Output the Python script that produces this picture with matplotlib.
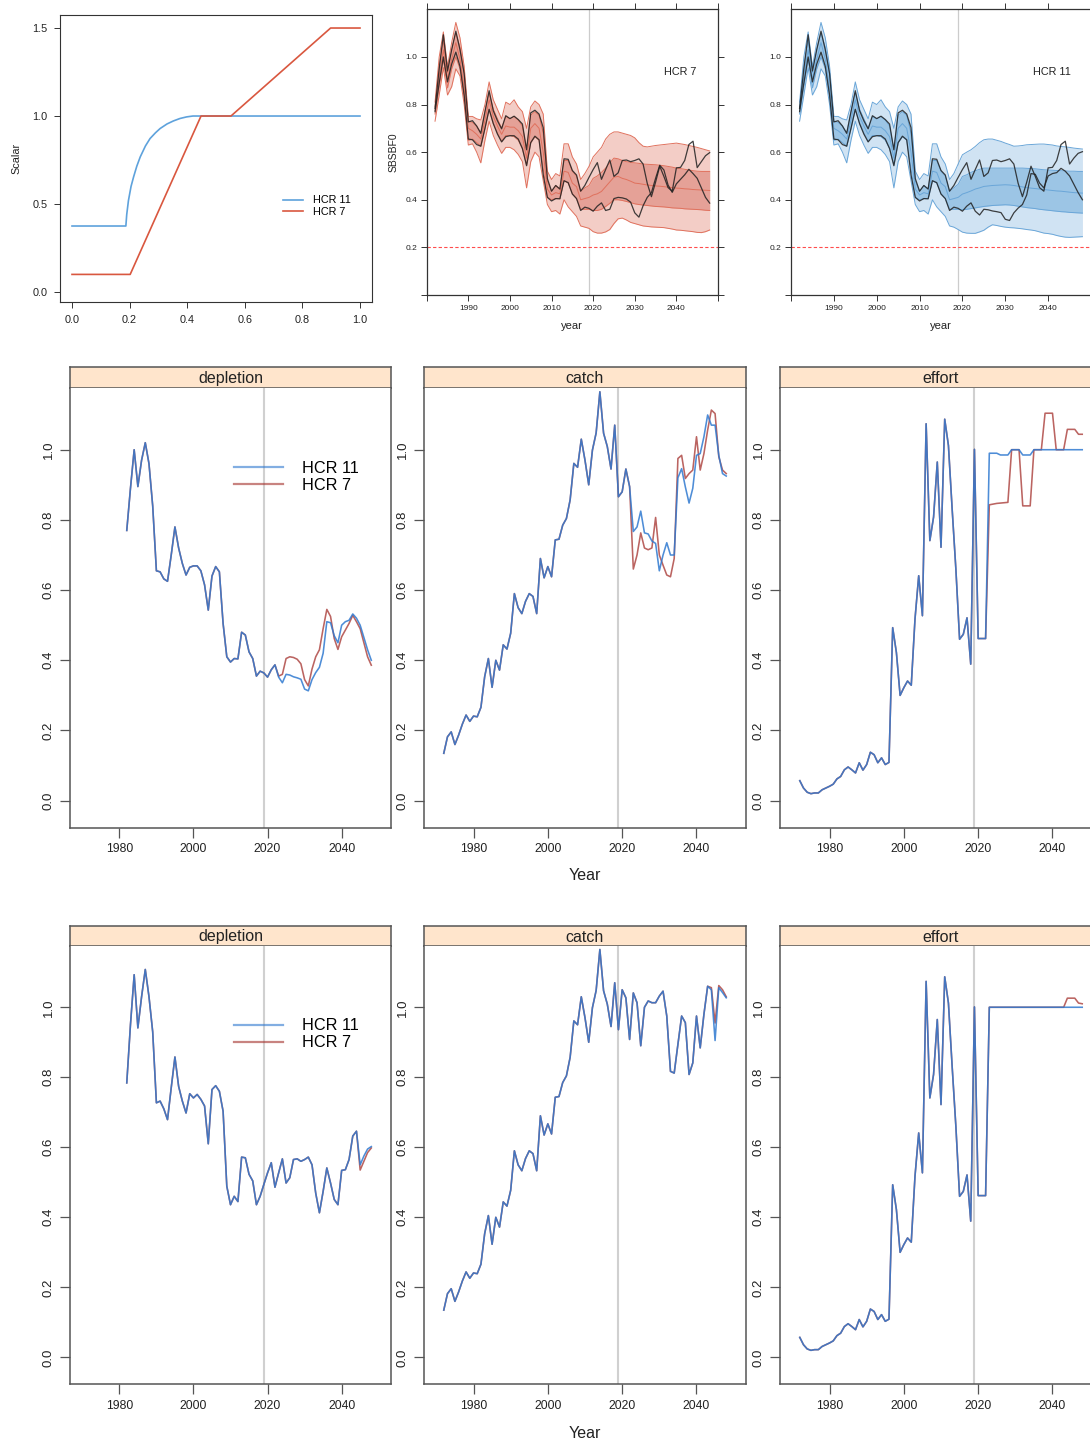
import numpy as np
import matplotlib
matplotlib.use("Agg")
import matplotlib.pyplot as plt
from matplotlib.lines import Line2D

plt.rcParams['font.family'] = ['Liberation Sans', 'DejaVu Sans']

# ---------------- harvest control rules ----------------
hcr7_x = [0.0, 0.202, 0.448, 0.552, 0.898, 1.0]
hcr7_y = [0.1, 0.1, 1.0, 1.0, 1.5, 1.5]
hcr11_x = [0.0, 0.187, 0.19, 0.196, 0.205, 0.214, 0.225, 0.237, 0.255, 0.271,
           0.29, 0.306, 0.33, 0.352, 0.375, 0.398, 0.42, 1.0]
hcr11_y = [0.375, 0.375, 0.44, 0.52, 0.60, 0.655, 0.715, 0.768, 0.83, 0.872,
           0.905, 0.929, 0.955, 0.972, 0.986, 0.995, 1.0, 1.0]

# ---------------- SB/SBF0 quantile envelopes ----------------
sb_years_hist = np.arange(1982, 2019)
sb_years_proj = np.arange(2019, 2049)
sb_lo90_hist = [0.73, 0.84, 0.955, 0.84, 0.875, 0.95, 0.92, 0.80, 0.63, 0.635, 0.60, 0.555,
                0.65, 0.73, 0.67, 0.63, 0.595, 0.62, 0.62, 0.61, 0.59, 0.56, 0.45, 0.56,
                0.60, 0.58, 0.48, 0.38, 0.35, 0.355, 0.34, 0.40, 0.37, 0.35, 0.33, 0.29, 0.285]
sb_lo50_hist = [0.76, 0.88, 0.99, 0.87, 0.95, 1.0, 0.95, 0.83, 0.65, 0.655, 0.64, 0.625,
                0.70, 0.78, 0.72, 0.68, 0.645, 0.67, 0.67, 0.665, 0.65, 0.615, 0.545, 0.64,
                0.665, 0.65, 0.53, 0.41, 0.40, 0.405, 0.405, 0.48, 0.47, 0.425, 0.405, 0.36, 0.36]
sb_med_hist = [0.775, 0.92, 1.03, 0.905, 0.99, 1.06, 0.99, 0.87, 0.70, 0.69, 0.675, 0.655,
               0.735, 0.82, 0.75, 0.71, 0.675, 0.71, 0.705, 0.705, 0.69, 0.665, 0.575, 0.70,
               0.72, 0.70, 0.60, 0.445, 0.42, 0.43, 0.425, 0.52, 0.515, 0.47, 0.455, 0.40, 0.405]
sb_hi50_hist = [0.79, 0.96, 1.07, 0.935, 1.03, 1.10, 1.04, 0.93, 0.73, 0.725, 0.71, 0.68,
                0.77, 0.85, 0.78, 0.74, 0.70, 0.75, 0.74, 0.75, 0.735, 0.71, 0.61, 0.755,
                0.77, 0.755, 0.68, 0.48, 0.435, 0.46, 0.445, 0.565, 0.565, 0.52, 0.50, 0.435, 0.45]
sb_hi90_hist = [0.81, 1.0, 1.105, 0.96, 1.06, 1.145, 1.08, 0.96, 0.75, 0.75, 0.74, 0.735,
                0.80, 0.895, 0.82, 0.78, 0.74, 0.81, 0.80, 0.82, 0.79, 0.77, 0.70, 0.79,
                0.815, 0.80, 0.76, 0.52, 0.485, 0.51, 0.50, 0.635, 0.635, 0.58, 0.55, 0.485, 0.51]

sb7_lo90 = [0.28, 0.266, 0.26, 0.26, 0.265, 0.275, 0.30, 0.32, 0.323, 0.315, 0.305, 0.30,
            0.295, 0.29, 0.288, 0.286, 0.285, 0.284, 0.283, 0.28, 0.277, 0.273, 0.272, 0.27,
            0.268, 0.266, 0.263, 0.262, 0.266, 0.273]
sb7_lo50 = [0.36, 0.355, 0.355, 0.36, 0.372, 0.385, 0.40, 0.40, 0.397, 0.393, 0.388, 0.383,
            0.38, 0.378, 0.376, 0.374, 0.372, 0.371, 0.37, 0.368, 0.366, 0.365, 0.364, 0.362,
            0.361, 0.36, 0.359, 0.358, 0.356, 0.355]
sb7_med = [0.41, 0.42, 0.425, 0.435, 0.455, 0.475, 0.495, 0.498, 0.49, 0.485, 0.478, 0.47,
           0.468, 0.465, 0.462, 0.46, 0.458, 0.457, 0.455, 0.453, 0.451, 0.449, 0.448, 0.446,
           0.445, 0.443, 0.442, 0.441, 0.44, 0.439]
sb7_hi50 = [0.46, 0.49, 0.50, 0.515, 0.533, 0.555, 0.575, 0.572, 0.565, 0.56, 0.557, 0.555,
            0.553, 0.55, 0.549, 0.548, 0.547, 0.545, 0.543, 0.54, 0.537, 0.533, 0.531, 0.528,
            0.525, 0.522, 0.52, 0.519, 0.519, 0.519]
sb7_hi90 = [0.54, 0.58, 0.60, 0.62, 0.655, 0.675, 0.685, 0.685, 0.68, 0.675, 0.67, 0.66,
            0.64, 0.625, 0.622, 0.625, 0.628, 0.63, 0.632, 0.634, 0.636, 0.638, 0.635, 0.632,
            0.628, 0.624, 0.62, 0.615, 0.61, 0.605]

sb11_lo90 = [0.275, 0.264, 0.26, 0.259, 0.259, 0.265, 0.272, 0.285, 0.295, 0.292, 0.288, 0.285,
             0.283, 0.282, 0.28, 0.278, 0.275, 0.273, 0.27, 0.265, 0.26, 0.258, 0.255, 0.25,
             0.246, 0.243, 0.242, 0.243, 0.244, 0.245]
sb11_lo50 = [0.36, 0.358, 0.36, 0.363, 0.366, 0.369, 0.372, 0.374, 0.376, 0.377, 0.378, 0.379,
             0.378, 0.376, 0.373, 0.37, 0.367, 0.365, 0.363, 0.36, 0.358, 0.356, 0.354, 0.352,
             0.35, 0.349, 0.347, 0.346, 0.345, 0.344]
sb11_med = [0.41, 0.424, 0.43, 0.437, 0.445, 0.45, 0.456, 0.458, 0.46, 0.461, 0.462, 0.463,
            0.462, 0.46, 0.457, 0.454, 0.451, 0.449, 0.447, 0.445, 0.443, 0.441, 0.439, 0.437,
            0.436, 0.434, 0.432, 0.43, 0.429, 0.428]
sb11_hi50 = [0.465, 0.498, 0.505, 0.515, 0.522, 0.528, 0.533, 0.533, 0.533, 0.533, 0.533, 0.533,
             0.533, 0.533, 0.533, 0.533, 0.532, 0.531, 0.53, 0.528, 0.526, 0.525, 0.524, 0.523,
             0.522, 0.521, 0.52, 0.52, 0.519, 0.519]
sb11_hi90 = [0.55, 0.589, 0.60, 0.61, 0.624, 0.64, 0.652, 0.655, 0.655, 0.65, 0.645, 0.638,
             0.632, 0.625, 0.626, 0.628, 0.631, 0.632, 0.633, 0.634, 0.634, 0.632, 0.63, 0.626,
             0.624, 0.622, 0.62, 0.617, 0.615, 0.613]

# ---------------- single iterations: depletion ----------------
dep_years = np.arange(1982, 2049)
# iteration a: common to 2022, then by rule 2023-2048
dep_a_common = [0.77, 0.89, 1.00, 0.895, 0.97, 1.02, 0.96, 0.84, 0.655, 0.652, 0.632, 0.625,
                0.70, 0.78, 0.72, 0.676, 0.643, 0.665, 0.669, 0.669, 0.655, 0.615, 0.543, 0.64,
                0.667, 0.652, 0.505, 0.41, 0.395, 0.405, 0.404, 0.48, 0.472, 0.424, 0.405,
                0.355, 0.369, 0.364, 0.352, 0.373, 0.387]
dep_a_hcr11 = [0.352, 0.336, 0.36, 0.358, 0.353, 0.35, 0.346, 0.318, 0.313, 0.345, 0.365,
               0.38, 0.42, 0.51, 0.507, 0.47, 0.45, 0.50, 0.51, 0.514, 0.532, 0.52, 0.50,
               0.465, 0.43, 0.40]
dep_a_hcr7 = [0.355, 0.36, 0.405, 0.41, 0.408, 0.403, 0.39, 0.345, 0.327, 0.375, 0.41,
              0.43, 0.49, 0.545, 0.525, 0.462, 0.431, 0.467, 0.486, 0.505, 0.528, 0.51, 0.49,
              0.45, 0.41, 0.386]
# iteration b: common to 2044, then by rule 2045-2048
dep_b_common = [0.784, 0.95, 1.093, 0.941, 1.03, 1.108, 1.03, 0.93, 0.727, 0.732, 0.71, 0.679,
                0.77, 0.858, 0.774, 0.732, 0.698, 0.753, 0.741, 0.751, 0.737, 0.718, 0.61,
                0.765, 0.776, 0.76, 0.703, 0.489, 0.436, 0.46, 0.445, 0.572, 0.57, 0.523,
                0.504, 0.436, 0.46, 0.494, 0.527, 0.556, 0.486, 0.527, 0.567, 0.498, 0.513,
                0.565, 0.567, 0.56, 0.565, 0.572, 0.55, 0.469, 0.413, 0.474, 0.541, 0.498,
                0.451, 0.436, 0.534, 0.536, 0.565, 0.632, 0.646]
dep_b_hcr11 = [0.55, 0.575, 0.595, 0.602]
dep_b_hcr7 = [0.535, 0.56, 0.585, 0.598]

# ---------------- single iterations: catch ----------------
ce_years = np.arange(1972, 2049)
catch_hist = [0.135, 0.182, 0.196, 0.16, 0.187, 0.218, 0.244, 0.226, 0.241, 0.239, 0.266,
              0.353, 0.405, 0.323, 0.40, 0.372, 0.444, 0.432, 0.477, 0.59, 0.55, 0.533,
              0.568, 0.59, 0.582, 0.533, 0.69, 0.635, 0.667, 0.638, 0.743, 0.745, 0.785,
              0.804, 0.857, 0.961, 0.95, 1.03, 0.97, 0.90, 0.999, 1.048, 1.165, 1.047,
              1.009, 0.945, 1.07]
catch_a_common = [0.866, 0.88, 0.945, 0.895]
catch_a_hcr11 = [0.767, 0.78, 0.825, 0.763, 0.76, 0.74, 0.733, 0.655, 0.70, 0.735, 0.70,
                 0.70, 0.92, 0.946, 0.894, 0.848, 0.89, 0.984, 0.989, 1.037, 1.099, 1.07,
                 1.07, 0.984, 0.932, 0.925]
catch_a_hcr7 = [0.66, 0.70, 0.763, 0.72, 0.715, 0.72, 0.807, 0.70, 0.671, 0.643, 0.638,
                0.69, 0.975, 0.984, 0.918, 0.932, 0.942, 1.037, 0.942, 0.989, 1.056, 1.113,
                1.103, 0.98, 0.942, 0.932]
catch_b_common = [0.936, 1.05, 1.027, 0.908, 1.041, 1.013, 0.89, 1.0, 1.018, 1.013, 1.013,
                  1.032, 1.046, 0.975, 0.817, 0.812, 0.894, 0.975, 0.956, 0.808, 0.841,
                  0.975, 0.884, 0.98, 1.06]
catch_b_hcr11 = [1.05, 0.905, 1.056, 1.042, 1.027]
catch_b_hcr7 = [1.056, 0.955, 1.062, 1.05, 1.03]

# ---------------- single iterations: effort ----------------
effort_hist = [0.057, 0.036, 0.024, 0.02, 0.022, 0.022, 0.031, 0.036, 0.041, 0.047, 0.062,
               0.069, 0.088, 0.096, 0.088, 0.079, 0.108, 0.087, 0.103, 0.138, 0.131, 0.108,
               0.122, 0.103, 0.109, 0.493, 0.422, 0.30, 0.322, 0.341, 0.329, 0.517, 0.641,
               0.527, 1.074, 0.741, 0.808, 0.965, 0.722, 1.087, 1.012, 0.831, 0.66, 0.46,
               0.474, 0.521, 0.389, 1.001, 0.462, 0.462, 0.462]
effort_a_hcr11 = [0.99, 0.99, 0.99, 0.985, 0.985, 0.985, 1.0, 1.0, 1.0, 0.985, 0.985, 0.985,
                  1.0, 1.0, 1.0, 1.0, 1.0, 1.0, 1.0, 1.0, 1.0, 1.0, 1.0, 1.0, 1.0, 1.0]
effort_a_hcr7 = [0.843, 0.845, 0.847, 0.848, 0.849, 0.85, 1.0, 1.0, 1.0, 0.84, 0.84, 0.84,
                 1.0, 1.0, 1.0, 1.104, 1.104, 1.104, 1.0, 1.0, 1.0, 1.058, 1.058, 1.058,
                 1.044, 1.044]
effort_b_common = [1.0] * 21
effort_b_hcr11 = [1.0, 1.0, 1.0, 1.0, 1.0]
effort_b_hcr7 = [1.026, 1.026, 1.026, 1.012, 1.01]

rules = ['HCR 11', 'HCR 7']

# ---------------- layout helpers ----------------
W, H = 1090, 1445
fig = plt.figure(figsize=(W / 100, H / 100), dpi=100)


def box(x0, y0, x1, y1):
    """Axes placed by its pixel box (left, top, right, bottom)."""
    return fig.add_axes([x0 / W, 1 - y1 / H, (x1 - x0) / W, (y1 - y0) / H])


# ================= top-left: control rules =================
rule_col = {'HCR 11': '#5ea2dc', 'HCR 7': '#d9573f'}
ax = box(60, 15, 372, 302.3)
ax.plot(hcr11_x, hcr11_y, color=rule_col['HCR 11'], lw=1.2, label='HCR 11')
ax.plot(hcr7_x, hcr7_y, color=rule_col['HCR 7'], lw=1.2, label='HCR 7')
ax.set_xlim(-0.0417, 1.0417)
ax.set_ylim(-0.0585, 1.574)
ax.set_xticks([0, 0.2, 0.4, 0.6, 0.8, 1.0])
ax.set_xticklabels(['0.0', '0.2', '0.4', '0.6', '0.8', '1.0'])
ax.set_yticks([0, 0.5, 1.0, 1.5])
ax.set_yticklabels(['0.0', '0.5', '1.0', '1.5'])
ax.tick_params(labelsize=7.8, length=4, width=0.7, color='#333333', labelcolor='#222222', pad=5)
for s in ax.spines.values():
    s.set_color('#333333')
    s.set_linewidth(0.8)
ax.set_ylabel('Scalar', fontsize=7.8, color='#222222', labelpad=8)
ax.legend(loc='upper left', bbox_to_anchor=(0.715, 0.372), frameon=False, fontsize=7.8,
          handlelength=1.8, handletextpad=1.0, labelspacing=0.1, borderpad=0,
          borderaxespad=0)

# ================= top: SB/SBF0 envelopes =================
band_style = {
    'HCR 7': dict(outer='#f3cdc6', inner='#e5a197', line='#e0715d'),
    'HCR 11': dict(outer='#d0e3f3', inner='#9cc5e5', line='#6aa6d8'),
}
proj_sets = {
    'HCR 7': (sb7_lo90, sb7_lo50, sb7_med, sb7_hi50, sb7_hi90),
    'HCR 11': (sb11_lo90, sb11_lo50, sb11_med, sb11_hi50, sb11_hi90),
}
hist_set = (sb_lo90_hist, sb_lo50_hist, sb_med_hist, sb_hi50_hist, sb_hi90_hist)
worm_a = {'HCR 11': dep_a_common + dep_a_hcr11, 'HCR 7': dep_a_common + dep_a_hcr7}
worm_b = {'HCR 11': dep_b_common + dep_b_hcr11, 'HCR 7': dep_b_common + dep_b_hcr7}
sb_years = np.concatenate([sb_years_hist, sb_years_proj])

for rule, (x0, x1), ylab in [('HCR 7', (426.7, 718), 'SBSBF0'), ('HCR 11', (791, 1091), None)]:
    ax = box(x0, 9.3, x1, 295)
    st = band_style[rule]
    lo90, lo50, med, hi50, hi90 = [np.array(h + p) for h, p in zip(hist_set, proj_sets[rule])]
    ax.fill_between(sb_years, lo90, hi90, color=st['outer'], lw=0)
    ax.fill_between(sb_years, lo50, hi50, color=st['inner'], lw=0)
    for q in (lo90, hi90, lo50, hi50, med):
        ax.plot(sb_years, q, color=st['line'], lw=0.7)
    ax.plot(dep_years, worm_a[rule], color='#202020', lw=0.9, alpha=0.85)
    ax.plot(dep_years, worm_b[rule], color='#202020', lw=0.9, alpha=0.85)
    ax.axvline(2019, color='#cccccc', lw=0.9, zorder=0.5)
    ax.axhline(0.2, color='#ff4d4d', lw=0.8, ls=(0, (3, 2)))
    ax.set_xlim(1980, 2050)
    ax.set_ylim(0, 1.2)
    ax.set_xticks(np.arange(1980, 2051, 10))
    ax.set_xticklabels([''] + [str(y) for y in range(1990, 2041, 10)] + [''])
    ax.set_yticks([0, 0.2, 0.4, 0.6, 0.8, 1.0])
    ax.set_yticklabels(['', '0.2', '0.4', '0.6', '0.8', '1.0'])
    ax.tick_params(labelsize=6, length=4, width=0.7, color='#333333',
                   labelcolor='#222222', top=True, right=True, pad=3)
    for s in ax.spines.values():
        s.set_color('#333333')
        s.set_linewidth(0.9)
    ax.set_xlabel('year', fontsize=8, color='#222222', labelpad=7)
    if ylab:
        ax.set_ylabel(ylab, fontsize=7.5, color='#222222', labelpad=5)
    ax.text(0.87, 0.78, rule, transform=ax.transAxes, fontsize=7.8, color='#222222',
            ha='center', va='center')

# ================= middle & bottom: single iterations =================
line_col = {'HCR 7': '#a4302c', 'HCR 11': '#2f79d0'}
line_alpha = {'HCR 7': 0.75, 'HCR 11': 0.85}

series_a = {
    'depletion': (dep_years, {'HCR 11': dep_a_common + dep_a_hcr11,
                              'HCR 7': dep_a_common + dep_a_hcr7}),
    'catch': (ce_years, {'HCR 11': catch_hist + catch_a_common + catch_a_hcr11,
                         'HCR 7': catch_hist + catch_a_common + catch_a_hcr7}),
    'effort': (ce_years, {'HCR 11': effort_hist + effort_a_hcr11,
                          'HCR 7': effort_hist + effort_a_hcr7}),
}
series_b = {
    'depletion': (dep_years, {'HCR 11': dep_b_common + dep_b_hcr11,
                              'HCR 7': dep_b_common + dep_b_hcr7}),
    'catch': (ce_years, {'HCR 11': catch_hist + catch_b_common + catch_b_hcr11,
                         'HCR 7': catch_hist + catch_b_common + catch_b_hcr7}),
    'effort': (ce_years, {'HCR 11': effort_hist + effort_b_common + effort_b_hcr11,
                          'HCR 7': effort_hist + effort_b_common + effort_b_hcr7}),
}

panel_x = [(70, 391), (424, 746), (780, 1102)]
frame_col = '#555555'


def draw_row(series, strip_top, strip_bot, box_bot, year_y):
    for (x0, x1), name in zip(panel_x, ['depletion', 'catch', 'effort']):
        sx = box(x0, strip_top, x1, strip_bot)
        sx.set_facecolor('#ffe5cc')
        sx.set_xticks([])
        sx.set_yticks([])
        for s in sx.spines.values():
            s.set_color(frame_col)
            s.set_linewidth(1.1)
        sx.text(0.5, 0.45, name, transform=sx.transAxes, ha='center', va='center',
                fontsize=11.5, color='#222222')

        ax = box(x0, strip_bot, x1, box_bot)
        yrs, vals = series[name]
        for rule in ['HCR 7', 'HCR 11']:
            ax.plot(yrs, vals[rule], color=line_col[rule], alpha=line_alpha[rule], lw=1.15,
                    solid_joinstyle='round')
        ax.axvline(2019, color='#d0d0d0', lw=1.5, zorder=0.5)
        ax.set_xlim(1966.68, 2053.32)
        ax.set_ylim(-0.077, 1.175)
        ax.set_xticks([1980, 2000, 2020, 2040])
        ax.set_yticks([0, 0.2, 0.4, 0.6, 0.8, 1.0])
        ax.set_yticklabels(['0.0', '0.2', '0.4', '0.6', '0.8', '1.0'])
        ax.tick_params(axis='x', labelsize=8.7, length=7, width=0.9, color=frame_col,
                       labelcolor='#222222', pad=4)
        ax.tick_params(axis='y', labelsize=9.5, length=7, width=0.9, color=frame_col,
                       labelcolor='#222222', pad=4, labelrotation=90)
        for lab in ax.get_yticklabels():
            lab.set_va('center')
        ax.spines['top'].set_visible(False)
        for side in ('left', 'bottom', 'right'):
            ax.spines[side].set_color(frame_col)
            ax.spines[side].set_linewidth(1.1)
        if name == 'depletion':
            handles = [Line2D([], [], color=line_col[r], alpha=0.6, lw=1.6) for r in rules]
            ax.legend(handles, rules, loc='upper left', bbox_to_anchor=(0.511, 0.835),
                      frameon=False, fontsize=11.7, handlelength=3.0, handletextpad=1.2,
                      labelspacing=0.12, borderpad=0, borderaxespad=0)
    fig.text(585 / W, 1 - year_y / H, 'Year', ha='center', va='center', fontsize=11.5,
             color='#222222')


draw_row(series_a, 367.3, 388.3, 827.7, 876)
draw_row(series_b, 926, 946, 1384.3, 1433)

fig.savefig('out.png', dpi=100)
